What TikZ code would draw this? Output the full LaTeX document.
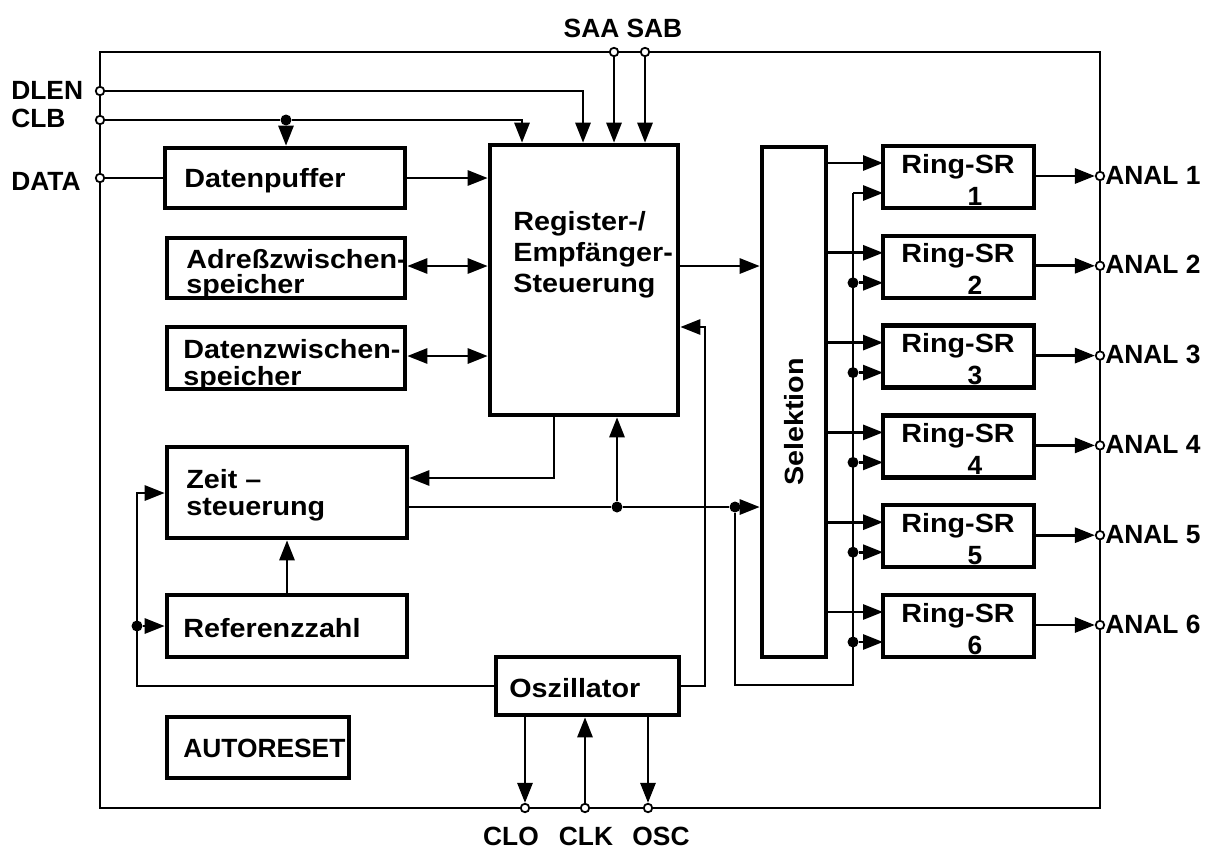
\documentclass[tikz,border=0pt]{standalone}
\usepackage{fontspec}
\setmainfont{Liberation Sans}
\newfontfamily\lcfont{Liberation Sans}[FakeStretch=1.09]
\usetikzlibrary{arrows.meta,fit}
\begin{document}
\begin{tikzpicture}[x=0.02cm,y=-0.02cm,
  every node/.style={font=\bfseries\fontsize{15}{15}\selectfont},
  box/.style={draw, line width=2.6pt, inner sep=0pt},
  wire/.style={line width=1.6pt},
  arr/.style={wire,-{Triangle[length=0.4cm,width=0.3cm]}},
  darr/.style={wire,{Triangle[length=0.4cm,width=0.3cm]}-{Triangle[length=0.4cm,width=0.3cm]}},
  pin/.style={circle,draw,fill=white,line width=1pt,inner sep=0pt,minimum size=0.17cm},
  dot/.style={circle,fill,inner sep=0pt,minimum size=0.22cm},
  lbl/.style={inner sep=0pt,anchor=base west},
  clbl/.style={inner sep=0pt,anchor=base},
  txt/.style={inner sep=0pt,anchor=base west,font=\lcfont\bfseries\fontsize{15}{15}\selectfont}]
\useasboundingbox (0,0) rectangle (1211,852);
% chip outline
\node[draw, line width=1.2pt, inner sep=0pt, fit={(100,52)(1100,808)}] (chip) {};
% boxes
\node[box, fit={(165,148)(405,208)}] (dp) {};
\node[box, fit={(167,238)(405,298)}] (az) {};
\node[box, fit={(167,327)(405,389)}] (dz) {};
\node[box, fit={(490,145)(678,415)}] (reg) {};
\node[box, fit={(167,447)(407,538)}] (zeit) {};
\node[box, fit={(167,595)(407,657)}] (ref) {};
\node[box, fit={(167,717)(349,778)}] (auto) {};
\node[box, fit={(496,657)(679,715)}] (osc) {};
\node[box, fit={(762,147)(826,657)}] (sel) {};
% box texts
\node[txt] (tdp) at (184,187) {Datenpuffer};
\node[txt] (taz1) at (186,268) {Adreßzwischen-};
\node[txt] (taz2) at (186,293) {speicher};
\node[txt] (tdz1) at (183,358) {Datenzwischen-};
\node[txt] (tdz2) at (183,385) {speicher};
\node[txt] (treg1) at (513,230) {Register-/};
\node[txt] (treg2) at (513,261) {Empfänger-};
\node[txt] (treg3) at (513,292) {Steuerung};
\node[txt] (tzeit1) at (186,488) {Zeit –};
\node[txt] (tzeit2) at (186,515) {steuerung};
\node[txt] (tref) at (183,637) {Referenzzahl};
\node[lbl] (tauto) at (183,757) {AUTORESET};
\node[txt] (tosc) at (509,697) {Oszillator};
\node[inner sep=0pt,rotate=90,font=\lcfont\bfseries\fontsize{15}{15}\selectfont] (tsel) at (794,422) {Selektion};
% pins
\node[pin] (dlen) at (100,91) {};
\node[pin] (clb) at (100,120) {};
\node[pin] (data) at (100,178) {};
\node[pin] (saa) at (614,52) {};
\node[pin] (sab) at (645,52) {};
\node[pin] (clo) at (525,808) {};
\node[pin] (clk) at (585,808) {};
\node[pin] (oscp) at (648,808) {};
% pin labels
\node[lbl] (ldlen) at (11,99) {DLEN};
\node[lbl] (lclb) at (11,127) {CLB};
\node[lbl] (ldata) at (11,190) {DATA};
\node[clbl] (lsa) at (623,37) {SAA SAB};
\node[clbl] (lclo) at (511,845) {CLO};
\node[clbl] (lclk) at (586,845) {CLK};
\node[clbl] (losc) at (661,845) {OSC};
% DLEN / CLB
\coordinate (dlenx) at (583,91);
\draw[arr] (dlen.east) -- (dlenx) -- (dlenx |- reg.north);
\coordinate (clbx) at (522,120);
\node[dot] (jclb) at (286,120) {};
\draw[wire] (clb.east) -- (jclb);
\draw[arr] (jclb) -- (clbx) -- (clbx |- reg.north);
\draw[arr] (jclb) -- (jclb |- dp.north);
\draw[arr] (saa.south) -- (saa |- reg.north);
\draw[arr] (sab.south) -- (sab |- reg.north);
% data path
\draw[wire] (data.east) -- (dp.west);
\draw[arr] (dp.east) -- (dp.east -| reg.west);
\draw[darr] (az.east |- 0,266) -- (reg.west |- 0,266);
\draw[darr] (dz.east |- 0,356) -- (reg.west |- 0,356);
% register to selektion
\coordinate (rs) at (720,266);
\draw[arr] (reg.east |- rs) -- (sel.west |- rs);
% register to zeit
\coordinate (rz) at (554,478);
\draw[arr] (reg.south -| rz) -- (rz) -- (zeit.east |- rz);
% zeit output
\node[dot] (j2) at (617,507) {};
\node[dot] (j3) at (735,507) {};
\draw[wire] (zeit.east |- j2) -- (j2) -- (j3);
\draw[arr] (j3) -- (sel.west |- j3);
\draw[arr] (j2) -- (j2 |- reg.south);
% oscillator left
\coordinate (zl) at (137,493);
\node[dot] (j4) at (137,626) {};
\draw[arr] (osc.west) -- (osc.west -| zl) -- (zl) -- (zl -| zeit.west);
\draw[arr] (j4) -- (j4 -| ref.west);
\draw[arr] (ref.north) -- (zeit.south);
% oscillator right
\coordinate (or) at (705,327);
\draw[arr] (osc.east) -- (osc.east -| or) -- (or) -- (or -| reg.east);
% oscillator pins
\draw[arr] (osc.south -| clo) -- (clo.north);
\draw[arr] (clk.north) -- (clk |- osc.south);
\draw[arr] (osc.south -| oscp) -- (oscp.north);
% bus
\coordinate (b1) at (735,685);
\coordinate (b2) at (853,685);
\coordinate (c1) at (853,193);
\draw[wire] (j3) -- (b1) -- (b2) -- (c1);
% rings
\foreach \i in {1,...,6}{
  \pgfmathsetmacro\t{146+89.8*(\i-1)}
  \node[box, fit={(883,\t)(1034,\t+62)}] (r\i) {};
  \coordinate (u\i) at (883,\t+17);
  \coordinate (l\i) at (883,\t+47);
  \draw[arr] (sel.east |- u\i) -- (u\i);
  \ifnum\i=1
    \draw[arr] (c1) -- (l1);
  \else
    \node[dot] (d\i) at (853,\t+47) {};
    \draw[arr] (d\i) -- (l\i);
  \fi
  \node[pin] (p\i) at (1100,\t+30) {};
  \draw[arr] (r\i.east |- p\i) -- (p\i.west);
  \node[lbl] (a\i) at (1105,\t+38) {ANAL \i};
  \node[txt] (rt\i) at (901,\t+27) {Ring-SR};
  \node[clbl] (rn\i) at (975,\t+59) {\i};
}
\end{tikzpicture}
\end{document}
